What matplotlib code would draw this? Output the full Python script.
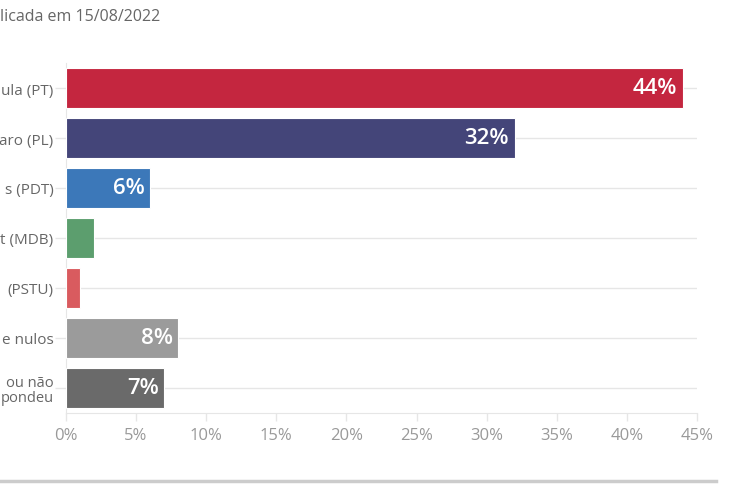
import matplotlib
matplotlib.use("Agg")
import matplotlib.pyplot as plt
from matplotlib.ticker import MultipleLocator, FuncFormatter

# visible (cropped) category labels as they appear in the reference
categories = ["ula (PT)", "aro (PL)", "s (PDT)", "t (MDB)",
              "(PSTU)", "e nulos", "ou não\npondeu"]
values = [44, 32, 6, 2, 1, 8, 7]
colors = ["#C4263F", "#444579", "#3C78B9", "#5C9E6E", "#D95B5F", "#9B9B9B", "#6A6A6A"]
subtitle = "licada em 15/08/2022"

plt.rcParams['font.family'] = ['Open Sans', 'DejaVu Sans']

fig = plt.figure(figsize=(7.3, 4.85), dpi=100)
ax = fig.add_axes([66/730, 1-414/485, 631/730, 350/485])

y = list(range(len(categories)))
ax.barh(y, values, height=0.8, color=colors, edgecolor="white", linewidth=0.8, zorder=3)

for yi, v in zip(y, values):
    if v >= 5:
        ax.text(v - 0.4, yi, f"{v}%", ha="right", va="center", color="white",
                fontsize=16, fontweight="semibold", zorder=4)

ax.set_xlim(0, 45)
ax.set_ylim(len(categories) - 0.5, -0.5)
ax.set_yticks(y)
ax.set_yticklabels(categories, color="#666666", fontsize=11, linespacing=1.0)
ax.get_yticklabels()[-1].set_fontsize(10.5)
ax.xaxis.set_major_locator(MultipleLocator(5))
ax.xaxis.set_major_formatter(FuncFormatter(lambda x, p: f"{int(x)}%"))
ax.tick_params(axis="x", colors="#e6e6e6", labelcolor="#999999", labelsize=12, length=6, width=1, pad=4)
ax.tick_params(axis="y", colors="#e6e6e6", labelcolor="#666666", length=8, width=1, pad=1)

ax.grid(axis="y", color="#e6e6e6", linewidth=1, zorder=0)
ax.grid(axis="x", visible=False)
for s in ["top", "right"]:
    ax.spines[s].set_visible(False)
ax.spines["left"].set_color("#e6e6e6")
ax.spines["bottom"].set_color("#e6e6e6")

fig.text(0.0, 1-17/485, subtitle, ha="left", va="center", color="#666666", fontsize=11.5)
fig.add_artist(plt.Line2D([0, 716/730], [1-482/485, 1-482/485], color="#cccccc", linewidth=2.5))

fig.savefig("out.png", dpi=100)
